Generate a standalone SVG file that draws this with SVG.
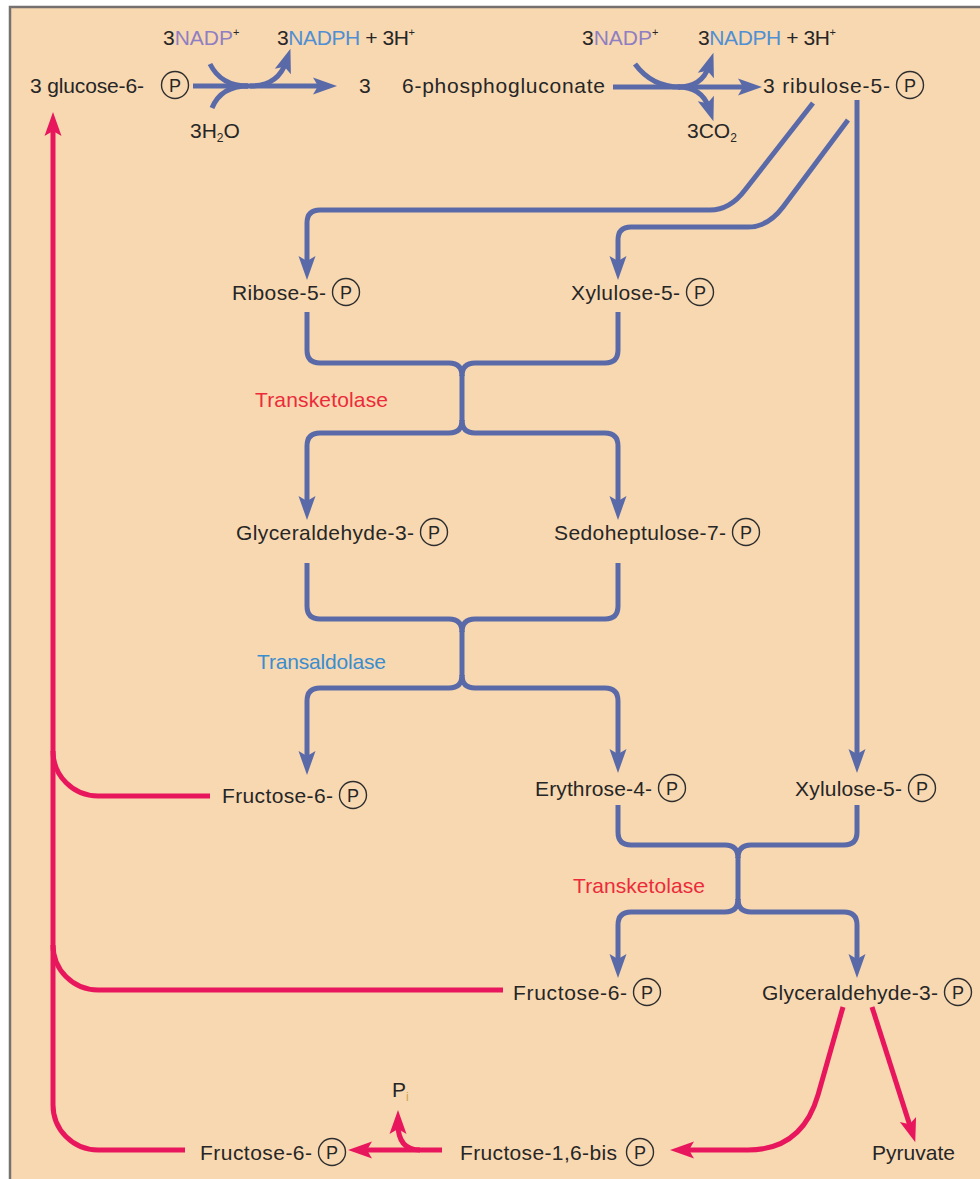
<svg xmlns="http://www.w3.org/2000/svg" width="980" height="1179" viewBox="0 0 980 1179">
<style>
.t{font-family:"Liberation Sans",Arial,sans-serif;font-size:21px;fill:#262626}
.pur{fill:#8f7fc2}
.nb{fill:#4f8fd3}
.red{fill:#ec2b3a}
.blu{fill:#3a8dcf}
.pc{fill:none;stroke:#2e2e2e;stroke-width:1.4}
.pl{font-family:"Liberation Sans",Arial,sans-serif;font-size:18px;fill:#262626;text-anchor:middle}
.bl{fill:none;stroke:#5a6aa8;stroke-width:5}
.rd{fill:none;stroke:#e8175d;stroke-width:5}
</style>
<defs>
<marker id="ab" markerUnits="userSpaceOnUse" markerWidth="26" markerHeight="20" viewBox="-25 -10 26 20" refX="-14" refY="0" orient="auto"><path d="M0,0 L-24,-8.5 L-19,0 L-24,8.5 Z" fill="#5a6aa8"/></marker>
<marker id="ar" markerUnits="userSpaceOnUse" markerWidth="26" markerHeight="20" viewBox="-25 -10 26 20" refX="-14" refY="0" orient="auto"><path d="M0,0 L-24,-8.5 L-19,0 L-24,8.5 Z" fill="#e8175d"/></marker>
</defs>
<rect x="0" y="0" width="980" height="1179" fill="#ffffff"/>
<rect x="10" y="7" width="970" height="1172" fill="#f8d8b1"/>
<path d="M10,1179 V7 H980" fill="none" stroke="#767070" stroke-width="2.5"/>

<g id="connectors">
  <path class="bl" d="M193,86 H323" marker-end="url(#ab)"/>
  <path class="bl" d="M210,64 Q221,86 248,86"/>
  <path class="bl" d="M212,108 Q221,86 248,86"/>
  <path class="bl" d="M250,86 Q278,86 286,62" marker-end="url(#ab)"/>
  <path class="bl" d="M613,87 H748" marker-end="url(#ab)"/>
  <path class="bl" d="M635,64 Q652,87 680,87"/>
  <path class="bl" d="M678,87 Q702,87 709,66" marker-end="url(#ab)"/>
  <path class="bl" d="M678,87 Q702,87 709,108" marker-end="url(#ab)"/>
  <path class="bl" d="M813,103 L745,190 Q730,210 710,210 H320 Q307,210 307,223 V266" marker-end="url(#ab)"/>
  <path class="bl" d="M848,120 L783,207 Q768,227 748,227 H631 Q618,227 618,240 V266" marker-end="url(#ab)"/>
  <path class="bl" d="M857,100 V759" marker-end="url(#ab)"/>
  <path class="bl" d="M307,312 V350 Q307,363 320,363 H449 Q462,363 462,376"/>
  <path class="bl" d="M618,312 V350 Q618,363 605,363 H475 Q462,363 462,376"/>
  <path class="bl" d="M462,375 V421"/>
  <path class="bl" d="M462,420 Q462,433 449,433 H320 Q307,433 307,446 V506" marker-end="url(#ab)"/>
  <path class="bl" d="M462,420 Q462,433 475,433 H605 Q618,433 618,446 V506" marker-end="url(#ab)"/>
  <path class="bl" d="M307,563 V606 Q307,619 320,619 H449 Q462,619 462,632"/>
  <path class="bl" d="M618,563 V606 Q618,619 605,619 H475 Q462,619 462,632"/>
  <path class="bl" d="M462,631 V676"/>
  <path class="bl" d="M462,675 Q462,688 449,688 H320 Q307,688 307,701 V761" marker-end="url(#ab)"/>
  <path class="bl" d="M462,675 Q462,688 475,688 H605 Q618,688 618,701 V759" marker-end="url(#ab)"/>
  <path class="bl" d="M618,805 V832 Q618,845 631,845 H725 Q738,845 738,858"/>
  <path class="bl" d="M857,805 V832 Q857,845 844,845 H751 Q738,845 738,858"/>
  <path class="bl" d="M738,857 V900"/>
  <path class="bl" d="M738,899 Q738,912 725,912 H631 Q618,912 618,925 V964" marker-end="url(#ab)"/>
  <path class="bl" d="M738,899 Q738,912 751,912 H844 Q857,912 857,925 V964" marker-end="url(#ab)"/>
  <path class="rd" d="M185,1150 H98 A45,45 0 0 1 53,1105 V126" marker-end="url(#ar)"/>
  <path class="rd" d="M210,796 H98 A45,45 0 0 1 53,751"/>
  <path class="rd" d="M503,990 H98 A45,45 0 0 1 53,945"/>
  <path class="rd" d="M442,1150 H362" marker-end="url(#ar)"/>
  <path class="rd" d="M420,1150 Q398,1150 398,1124" marker-end="url(#ar)"/>
  <path class="rd" d="M843,1007 L818,1095 Q802,1150 748,1150 H684" marker-end="url(#ar)"/>
  <path class="rd" d="M872,1007 L911,1129" marker-end="url(#ar)"/>
</g>

<g id="nadp1"><text class="t" x="163" y="45">3<tspan class="pur">NADP</tspan><tspan font-size="11" dy="-9">+</tspan></text></g>
<g id="nadph1"><text class="t" x="277" y="45" textLength="138">3<tspan class="nb">NADPH</tspan> + 3H<tspan font-size="11" dy="-9">+</tspan></text></g>
<g id="h2o"><text class="t" x="190" y="138">3H<tspan font-size="12" dy="4">2</tspan><tspan dy="-4">O</tspan></text></g>
<g id="glucose6p"><text class="t" x="30" y="93" textLength="114">3 glucose-6-</text><circle class="pc" cx="175" cy="85" r="13.5"/><text class="pl" x="175" y="91.5">P</text></g>
<g id="three"><text class="t" x="359" y="93">3</text></g>
<g id="phosphogluconate"><text class="t" x="402" y="93" textLength="203">6-phosphogluconate</text></g>
<g id="nadp2"><text class="t" x="582" y="45">3<tspan class="pur">NADP</tspan><tspan font-size="11" dy="-9">+</tspan></text></g>
<g id="nadph2"><text class="t" x="698" y="45" textLength="138">3<tspan class="nb">NADPH</tspan> + 3H<tspan font-size="11" dy="-9">+</tspan></text></g>
<g id="co2"><text class="t" x="687" y="138">3CO<tspan font-size="12" dy="4">2</tspan></text></g>
<g id="ribulose5p"><text class="t" x="763" y="93" textLength="127">3 ribulose-5-</text><circle class="pc" cx="910" cy="85" r="13.5"/><text class="pl" x="910" y="91.5">P</text></g>

<g id="ribose5p"><text class="t" x="232" y="300" textLength="94">Ribose-5-</text><circle class="pc" cx="346" cy="292" r="13.5"/><text class="pl" x="346" y="298.5">P</text></g>
<g id="xylulose5p-a"><text class="t" x="571" y="300" textLength="109">Xylulose-5-</text><circle class="pc" cx="700" cy="292" r="13.5"/><text class="pl" x="700" y="298.5">P</text></g>
<g id="transketolase1"><text class="t red" x="255" y="407" textLength="133">Transketolase</text></g>
<g id="glyceraldehyde3p-a"><text class="t" x="236" y="540" textLength="178">Glyceraldehyde-3-</text><circle class="pc" cx="434" cy="532" r="13.5"/><text class="pl" x="434" y="538.5">P</text></g>
<g id="sedoheptulose7p"><text class="t" x="554" y="540" textLength="172">Sedoheptulose-7-</text><circle class="pc" cx="746" cy="532" r="13.5"/><text class="pl" x="746" y="538.5">P</text></g>
<g id="transaldolase"><text class="t blu" x="257" y="669" textLength="129">Transaldolase</text></g>
<g id="fructose6p-a"><text class="t" x="222" y="803" textLength="111">Fructose-6-</text><circle class="pc" cx="353" cy="795" r="13.5"/><text class="pl" x="353" y="801.5">P</text></g>
<g id="erythrose4p"><text class="t" x="535" y="796" textLength="117">Erythrose-4-</text><circle class="pc" cx="672" cy="788" r="13.5"/><text class="pl" x="672" y="794.5">P</text></g>
<g id="xylulose5p-b"><text class="t" x="795" y="796" textLength="107">Xylulose-5-</text><circle class="pc" cx="922" cy="788" r="13.5"/><text class="pl" x="922" y="794.5">P</text></g>
<g id="transketolase2"><text class="t red" x="573" y="893" textLength="132">Transketolase</text></g>
<g id="fructose6p-b"><text class="t" x="513" y="1000" textLength="114">Fructose-6-</text><circle class="pc" cx="647" cy="992" r="13.5"/><text class="pl" x="647" y="998.5">P</text></g>
<g id="glyceraldehyde3p-b"><text class="t" x="762" y="1000" textLength="176">Glyceraldehyde-3-</text><circle class="pc" cx="958" cy="992" r="13.5"/><text class="pl" x="958" y="998.5">P</text></g>
<g id="pyruvate"><text class="t" x="872" y="1160" textLength="83">Pyruvate</text></g>
<g id="fructose16bp"><text class="t" x="460" y="1160" textLength="157">Fructose-1,6-bis</text><circle class="pc" cx="640" cy="1152" r="13.5"/><text class="pl" x="640" y="1158.5">P</text></g>
<g id="fructose6p-c"><text class="t" x="200" y="1160" textLength="112">Fructose-6-</text><circle class="pc" cx="332" cy="1152" r="13.5"/><text class="pl" x="332" y="1158.5">P</text></g>
<g id="pi"><text class="t" x="392" y="1097">P<tspan font-size="12" dy="4" fill="#c9a24a">i</tspan></text></g>
</svg>
